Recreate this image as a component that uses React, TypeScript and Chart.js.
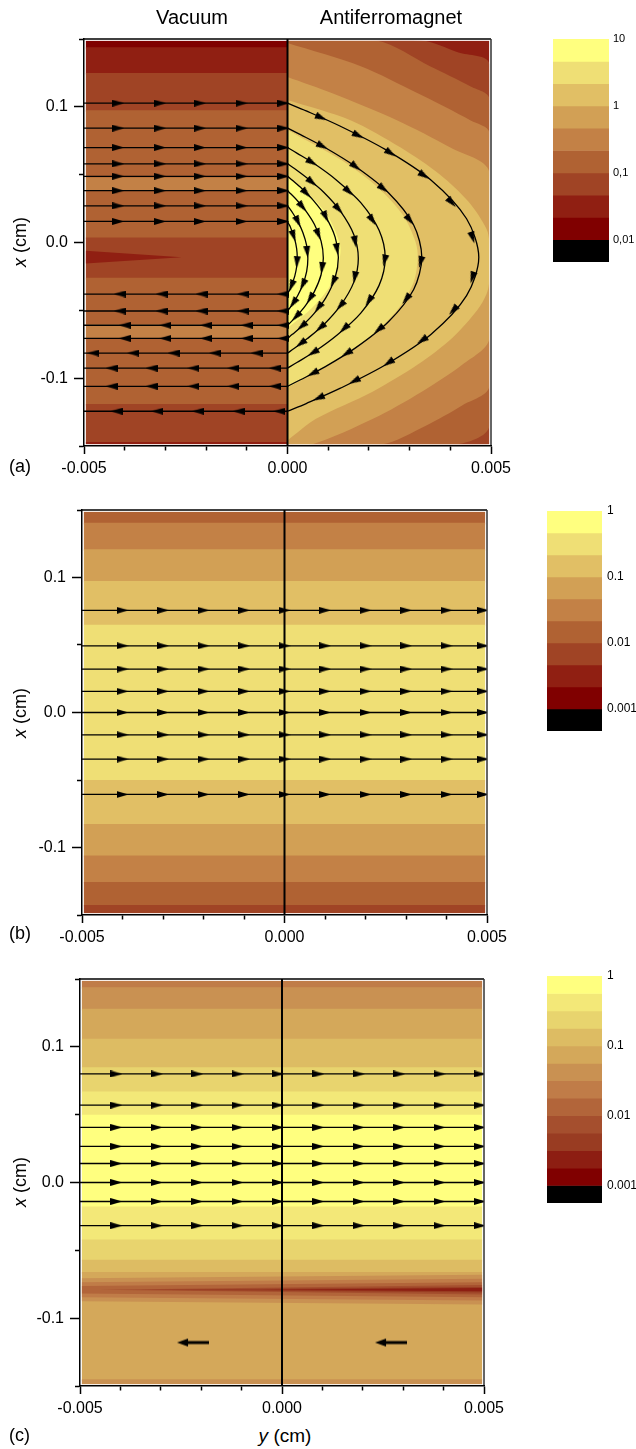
import React, { useEffect, useRef } from 'react';
import { Chart, registerables } from 'chart.js';

Chart.register(...registerables);

const FONT = "'Liberation Sans', Arial, Helvetica, sans-serif";

// ---------------- shared axes ----------------
// horizontal axis = y (cm), vertical axis = x (cm)
const yCmTicks = [-0.005, -0.004, -0.003, -0.002, -0.001, 0, 0.001, 0.002, 0.003, 0.004, 0.005];
const yCmTickLabels = ['-0.005', '', '', '', '', '0.000', '', '', '', '', '0.005'];
const xCmTicks = [-0.15, -0.1, -0.05, 0, 0.05, 0.1, 0.15];
const xCmTickLabels = ['', '-0.1', '', '0.0', '', '0.1', ''];

// colour levels (top of colour bar first)
const palette10 = ['#FFFF7F', '#EFDF75', '#E1BF65', '#D2A055', '#C38146', '#B06233', '#A04425', '#901F12', '#800000', '#000000'];
const palette13 = ['#FFFF7F', '#F3E878', '#E8D46E', '#DDBC63', '#D4A85A', '#C99152', '#C07C48', '#B2653A', '#A54F2E', '#993C22', '#8D1E12', '#800000', '#000000'];

// data-range of the filled contour area (slightly inside the axis frame)
const IN_H = 0.00496;
const IN_V = 0.1489;

// ---------------- panel (a) ----------------
const aVacuumEdges = [0.15, 0.144, 0.125, 0.0975, 0.048, 0.0385, 0.0037, -0.026, -0.06, -0.071, -0.119, -0.147, -0.15];
const aVacuumLevels = [8, 7, 6, 5, 4, 5, 6, 5, 4, 5, 6, 7];
const aVacuumWedge = [[-IN_H, -0.006], [-0.0026, -0.0108], [-IN_H, -0.0155]];
const aVacuumWedgeLevel = 7;
const aAfmBaseLevel = 7;
const aAfmRegions = [
  [[0, IN_V], [0.0033, IN_V], [0.0042, 0.14], [IN_H, 0.1315], [IN_H, -IN_V], [0, -IN_V]],
  [[0, IN_V], [0.0022, IN_V], [0.0035, 0.13], [0.0045, 0.115], [IN_H, 0.106], [IN_H, -0.135], [0.0041, -IN_V], [0, -IN_V]],
  [[0, 0.147], [0.0018, 0.13], [0.0032, 0.11], [0.0045, 0.09], [IN_H, 0.081], [IN_H, -0.106], [0.0043, -0.12], [0.0034, -0.135], [0.0023, -IN_V], [0, -IN_V]],
  [[0, 0.122], [0.0011, 0.11], [0.0027, 0.09], [0.004, 0.07], [IN_H, 0.052], [IN_H, -0.071], [0.0043, -0.09], [0.0033, -0.11], [0.0021, -0.13], [0.0006, -IN_V], [0, -IN_V]],
  [[0, 0.105], [0.00156, 0.09], [0.00278, 0.07], [0.00375, 0.05], [0.00445, 0.03], [0.00489, 0.01], [IN_H, 0.0], [IN_H, -0.028], [0.00489, -0.038], [0.00466, -0.05], [0.00406, -0.07], [0.0032, -0.09], [0.00209, -0.11], [0.0007, -0.13], [0, -0.146]],
  [[0, 0.083], [0.00136, 0.06], [0.00224, 0.04], [0.00284, 0.02], [0.00315, 0.0], [0.0032, -0.012], [0.00309, -0.03], [0.00269, -0.05], [0.00201, -0.07], [0.00104, -0.09], [0, -0.107]],
  [[0, 0.048], [0.00054, 0.035], [0.00098, 0.02], [0.00128, 0.0], [0.0013, -0.0075], [0.00122, -0.02], [0.00098, -0.035], [0.00054, -0.05], [0, -0.063]],
];
const aAfmLevels = [6, 5, 4, 3, 2, 1, 0];

const aEntryX = [0.1027, 0.0843, 0.07, 0.058, 0.0488, 0.0382, 0.027, 0.0155];
const aExitX = [-0.1244, -0.106, -0.0926, -0.0815, -0.0707, -0.061, -0.0505, -0.038];
const aCurves = [
  [[0, 0.1027], [0.00046, 0.097], [0.0013, 0.0857], [0.0024, 0.0686], [0.00353, 0.0459], [0.0044, 0.0175], [0.0047, -0.0109], [0.0044, -0.0392], [0.00353, -0.0676], [0.0024, -0.0903], [0.0013, -0.1074], [0.00046, -0.1187], [0, -0.1244]],
  [[0, 0.0843], [0.00032, 0.0795], [0.00092, 0.07], [0.00168, 0.0558], [0.00248, 0.0367], [0.0031, 0.0129], [0.0033, -0.0109], [0.0031, -0.0346], [0.00248, -0.0584], [0.00168, -0.0775], [0.00092, -0.0917], [0.00032, -0.1012], [0, -0.106]],
  [[0, 0.07], [0.00023, 0.0659], [0.00067, 0.0578], [0.00122, 0.0456], [0.0018, 0.0294], [0.00225, 0.009], [0.0024, -0.0113], [0.00225, -0.0316], [0.0018, -0.052], [0.00122, -0.0682], [0.00067, -0.0804], [0.00023, -0.0885], [0, -0.0926]],
  [[0, 0.058], [0.00017, 0.0545], [0.00048, 0.0475], [0.00089, 0.0371], [0.0013, 0.0231], [0.00163, 0.0057], [0.00174, -0.0118], [0.00163, -0.0292], [0.0013, -0.0466], [0.00089, -0.0606], [0.00048, -0.071], [0.00017, -0.078], [0, -0.0815]],
  [[0, 0.0488], [0.00012, 0.0458], [0.00035, 0.0398], [0.00064, 0.0309], [0.00094, 0.0189], [0.00117, 0.004], [0.00125, -0.011], [0.00117, -0.0259], [0.00094, -0.0408], [0.00064, -0.0528], [0.00035, -0.0617], [0.00012, -0.0677], [0, -0.0707]],
  [[0, 0.0382], [0.000086, 0.0357], [0.000244, 0.0308], [0.00045, 0.0233], [0.00066, 0.0134], [0.000825, 0.001], [0.00088, -0.0114], [0.000825, -0.0238], [0.00066, -0.0362], [0.00045, -0.0461], [0.000244, -0.0536], [0.000086, -0.0585], [0, -0.061]],
  [[0, 0.027], [0.00005, 0.0251], [0.00014, 0.0212], [0.000255, 0.0154], [0.000375, 0.0076], [0.00047, -0.0021], [0.0005, -0.0118], [0.00047, -0.0214], [0.000375, -0.0311], [0.000255, -0.0389], [0.00014, -0.0447], [0.00005, -0.0486], [0, -0.0505]],
  [[0, 0.0155], [0.00002, 0.0142], [0.00007, 0.0115], [0.00012, 0.0075], [0.00018, 0.0021], [0.000225, -0.0046], [0.00024, -0.0113], [0.000225, -0.0179], [0.00018, -0.0246], [0.00012, -0.03], [0.00007, -0.034], [0.00002, -0.0367], [0, -0.038]],
];
const aEntryArrowsY = [-0.00416, -0.00313, -0.00215, -0.00113, -0.0001];
const aExitArrowsY = [
  [-0.0042, -0.0032, -0.0022, -0.0012, -0.0002],
  [-0.00432, -0.00334, -0.00231, -0.00133, -0.00031],
  [-0.00432, -0.00334, -0.00231, -0.00133, -0.00031],
  [-0.00477, -0.00379, -0.0028, -0.00178, -0.00076],
  [-0.004, -0.003, -0.002, -0.001, -0.0001],
  [-0.004, -0.003, -0.002, -0.001, -0.0001],
  [-0.00412, -0.00309, -0.00211, -0.00109, -0.0001],
  [-0.00412, -0.00309, -0.00211, -0.00109, -0.0001],
];
const aCurveArrowIdx = [
  [1.44, 2.4, 3.12, 3.85, 4.58, 5.49, 6.53, 7.38, 8.2, 8.93, 9.69, 10.64],
  [1.9, 3.0, 3.85, 4.85, 6.15, 7.3, 8.3, 9.3, 10.5],
  [1.85, 3.5, 4.64, 6.1, 7.56, 8.71, 10.1],
  [2.3, 3.9, 5.3, 6.8, 8.0, 9.2, 10.5],
  [2.4, 4.0, 5.6, 7.2, 8.6, 10.0],
  [2.6, 4.6, 6.6, 8.5, 10.2],
  [3.0, 5.5, 8.0, 10.0],
  [3.5, 6.5, 9.5],
];
const aBarEdges = [1, 0.6667, 0.3333, 0, -0.3333, -0.6667, -1, -1.3333, -1.6667, -2, -2.3333];
const aBarTicks = [1, 0, -1, -2];
const aBarLabels = ['10', '1', '0,1', '0,01'];

// ---------------- panel (b) ----------------
const bBandEdges = [0.15, 0.1405, 0.121, 0.0975, 0.065, -0.05, -0.0825, -0.106, -0.1255, -0.1425, -0.15];
const bBandLevels = [5, 4, 3, 2, 1, 2, 3, 4, 5, 6];
const bLinesX = [0.0757, 0.0494, 0.0322, 0.0157, 0.0, -0.0165, -0.0345, -0.0607];
const bArrowsY = [-0.004, -0.003, -0.002, -0.001, 0.0, 0.001, 0.002, 0.003, 0.004, 0.0049];
const bBarEdges = [0, -0.3333, -0.6667, -1, -1.3333, -1.6667, -2, -2.3333, -2.6667, -3, -3.3333];
const bBarTicks = [0, -1, -2, -3];
const bBarLabels = ['1', '0.1', '0.01', '0.001'];

// ---------------- panel (c) ----------------
const cBandEdges = [0.15, 0.144, 0.128, 0.106, 0.085, 0.067, 0.05, -0.0177, -0.042, -0.057, -0.066, -0.145, -0.15];
const cBandLevels = [6, 5, 4, 3, 2, 1, 0, 1, 2, 3, 4, 5];
const cDipShapes = [
  [[-IN_H, -0.0705], [IN_H, -0.068], [IN_H, -0.09], [-IN_H, -0.0875]],
  [[-IN_H, -0.0735], [IN_H, -0.071], [IN_H, -0.087], [-IN_H, -0.0845]],
  [[-IN_H, -0.0762], [IN_H, -0.0735], [IN_H, -0.0845], [-IN_H, -0.0818]],
  [[-0.0045, -0.079], [IN_H, -0.0755], [IN_H, -0.0825]],
  [[-0.0035, -0.079], [IN_H, -0.077], [IN_H, -0.081]],
  [[-0.0005, -0.079], [IN_H, -0.0778], [IN_H, -0.0802]],
];
const cDipLevels = [5, 6, 7, 8, 9, 10];
const cLinesX = [0.08, 0.057, 0.0406, 0.0266, 0.014, 0.0, -0.014, -0.0318];
const cArrowsY = [-0.0041, -0.0031, -0.0021, -0.0011, -0.0001, 0.0009, 0.0019, 0.0029, 0.0039, 0.0049];
const cBackArrows = [[-0.0022, -0.118], [0.0027, -0.118]];
const cBarEdges = [0, -0.25, -0.5, -0.75, -1, -1.25, -1.5, -1.75, -2, -2.25, -2.5, -2.75, -3, -3.25];
const cBarTicks = [0, -1, -2, -3];
const cBarLabels = ['1', '0.1', '0.01', '0.001'];

// ---------------- helpers ----------------
const toXY = (pts: number[][]) => pts.map((p) => ({ x: p[0], y: p[1] }));

function poly(pts: number[][], color: string, tension = 0) {
  return { type: 'line', data: toXY(pts), borderWidth: 0, pointRadius: 0, fill: 'shape', backgroundColor: color, tension };
}
function stroke(pts: number[][], width: number, tension = 0, color = '#000') {
  return { type: 'line', data: toXY(pts), borderColor: color, borderWidth: width, pointRadius: 0, fill: false, tension, borderCapStyle: 'butt' };
}
function bands(edges: number[], levels: number[], palette: string[], h0: number, h1: number) {
  return levels.map((lv, i) => {
    const top = Math.min(edges[i], IN_V);
    const bot = Math.max(edges[i + 1] - 0.0012, -IN_V);
    return poly([[h0, top], [h1, top], [h1, bot], [h0, bot]], palette[lv]);
  });
}
function whiteInset() {
  return { ...stroke([[-0.005, -0.15], [0.005, -0.15], [0.005, 0.15], [-0.005, 0.15], [-0.005, -0.15]], 3.4, 0, '#ffffff'), clip: 0 };
}
function centerLine() {
  return stroke([[0, -0.15], [0, 0.15]], 2);
}
function onPath(path: number[][], f: number) {
  const i = Math.min(Math.floor(f), path.length - 2);
  const t = f - i;
  const a = path[i];
  const b = path[i + 1];
  return { x: a[0] + (b[0] - a[0]) * t, y: a[1] + (b[1] - a[1]) * t, dx: b[0] - a[0], dy: b[1] - a[1] };
}
const rotateAlong = (c: any) => {
  const r = c.raw;
  const ch = c.chart;
  if (!r || r.dx === undefined || !ch.scales || !ch.scales.x) return 0;
  const sx = ch.scales.x;
  const sy = ch.scales.y;
  const px = sx.getPixelForValue(r.x + r.dx) - sx.getPixelForValue(r.x);
  const py = sy.getPixelForValue(r.y + r.dy) - sy.getPixelForValue(r.y);
  return (Math.atan2(py, px) * 180) / Math.PI;
};
function arrowSet(items: any[], img: HTMLCanvasElement) {
  return { type: 'line', data: items, showLine: false, fill: false, borderWidth: 0, pointRadius: 6, pointBorderWidth: 0, pointStyle: img, pointRotation: rotateAlong };
}
function withOrder(ds: any[]) {
  return ds.map((d, i) => ({ ...d, order: ds.length - i }));
}

function makeHead() {
  const c = document.createElement('canvas');
  c.width = 12;
  c.height = 7;
  const g = c.getContext('2d')!;
  g.fillStyle = '#000';
  g.beginPath();
  g.moveTo(0, 0);
  g.lineTo(12, 3.5);
  g.lineTo(0, 7);
  g.closePath();
  g.fill();
  return c;
}
function makeBigArrow() {
  const c = document.createElement('canvas');
  c.width = 32;
  c.height = 10;
  const g = c.getContext('2d')!;
  g.fillStyle = '#000';
  g.fillRect(0, 3.5, 23, 3);
  g.beginPath();
  g.moveTo(21, 1);
  g.lineTo(32, 5);
  g.lineTo(21, 9);
  g.closePath();
  g.fill();
  return c;
}

const framePlugin = {
  id: 'frame',
  afterDatasetsDraw(chart: any) {
    const { ctx, chartArea: a } = chart;
    ctx.save();
    ctx.lineWidth = 1.5;
    ctx.strokeStyle = '#000';
    ctx.beginPath();
    ctx.moveTo(a.left, a.top);
    ctx.lineTo(a.right, a.top);
    ctx.stroke();
    ctx.strokeStyle = '#333';
    ctx.beginPath();
    ctx.moveTo(a.right, a.top);
    ctx.lineTo(a.right, a.bottom);
    ctx.stroke();
    ctx.restore();
  },
};

function axes(yWidth: number, xHeight: number) {
  const tickFont = { family: FONT, size: 16 };
  return {
    x: {
      type: 'linear',
      min: -0.005,
      max: 0.005,
      afterBuildTicks: (s: any) => {
        s.ticks = yCmTicks.map((v) => ({ value: v }));
      },
      afterFit: (s: any) => {
        s.height = xHeight;
      },
      ticks: { autoSkip: false, maxRotation: 0, minRotation: 0, padding: 5, color: '#000', font: tickFont, callback: (_v: any, i: number) => yCmTickLabels[i] },
      grid: {
        drawOnChartArea: false,
        tickLength: 8,
        tickWidth: 1.5,
        tickColor: '#000',
        tickBorderDash: (c: any) => (yCmTickLabels[c.index] ? [] : [4, 30]),
      },
      border: { display: true, color: '#000', width: 1.5, z: 1 },
    },
    y: {
      type: 'linear',
      min: -0.15,
      max: 0.15,
      afterBuildTicks: (s: any) => {
        s.ticks = xCmTicks.map((v) => ({ value: v }));
      },
      afterFit: (s: any) => {
        s.width = yWidth;
      },
      ticks: { autoSkip: false, padding: 6, color: '#000', font: tickFont, callback: (_v: any, i: number) => xCmTickLabels[i] },
      grid: {
        drawOnChartArea: false,
        tickLength: 10,
        tickWidth: 1.5,
        tickColor: '#000',
        tickBorderDash: (c: any) => (xCmTickLabels[c.index] ? [] : [0, 5, 30]),
      },
      border: { display: true, color: '#000', width: 1.5, z: 1 },
    },
  };
}

function panelConfig(datasets: any[], padTop: number, padRight: number, yWidth: number, xHeight: number) {
  return {
    type: 'line',
    data: { datasets },
    options: {
      animation: false,
      responsive: false,
      devicePixelRatio: 1,
      events: [],
      layout: { padding: { left: 0, top: padTop, right: padRight, bottom: 0 } },
      plugins: { legend: { display: false }, tooltip: { enabled: false } },
      scales: axes(yWidth, xHeight),
    },
    plugins: [framePlugin],
  };
}

function colorbarConfig(edges: number[], palette: string[], ticks: number[], labels: string[], fontSize: number, labelPad: number, axisWidth: number, padTop: number, padBottom: number) {
  return {
    type: 'bar',
    data: {
      labels: [''],
      datasets: palette.map((c, i) => ({
        data: [[edges[i + 1], edges[i]]],
        backgroundColor: c,
        borderWidth: 0,
        barPercentage: 1,
        categoryPercentage: 1,
        grouped: false,
      })),
    },
    options: {
      animation: false,
      responsive: false,
      devicePixelRatio: 1,
      events: [],
      layout: { padding: { left: 0, right: 0, top: padTop, bottom: padBottom } },
      plugins: { legend: { display: false }, tooltip: { enabled: false } },
      scales: {
        x: { display: false },
        y: {
          position: 'right',
          min: edges[edges.length - 1],
          max: edges[0],
          afterBuildTicks: (s: any) => {
            s.ticks = ticks.map((v) => ({ value: v }));
          },
          afterFit: (s: any) => {
            s.width = axisWidth;
          },
          grid: { display: false, drawTicks: false, tickLength: 0 },
          border: { display: false },
          ticks: { padding: labelPad, color: '#000', font: { family: FONT, size: fontSize }, callback: (_v: any, i: number) => labels[i] },
        },
      },
    },
  };
}

// ---------------- panel builders ----------------
function buildA() {
  const head = makeHead();
  const ds: any[] = [];
  ds.push(...bands(aVacuumEdges, aVacuumLevels, palette10, -IN_H, 0.00005));
  ds.push(poly(aVacuumWedge, palette10[aVacuumWedgeLevel]));
  ds.push(poly([[0, IN_V], [IN_H, IN_V], [IN_H, -IN_V], [0, -IN_V]], palette10[aAfmBaseLevel]));
  aAfmRegions.forEach((r, i) => ds.push(poly(r, palette10[aAfmLevels[i]], 0.3)));
  ds.push(whiteInset());
  ds.push(centerLine());
  aEntryX.forEach((v) => ds.push(stroke([[-0.005, v], [0, v]], 1.3)));
  aExitX.forEach((v) => ds.push(stroke([[0, v], [-0.005, v]], 1.3)));
  aCurves.forEach((c) => ds.push(stroke(c, 1.3, 0.3)));
  const arrows: any[] = [];
  aEntryX.forEach((v) => aEntryArrowsY.forEach((h) => arrows.push({ x: h, y: v, dx: 0.001, dy: 0 })));
  aExitX.forEach((v, i) => aExitArrowsY[i].forEach((h) => arrows.push({ x: h, y: v, dx: -0.001, dy: 0 })));
  aCurves.forEach((c, i) => aCurveArrowIdx[i].forEach((f) => arrows.push(onPath(c, f))));
  ds.push(arrowSet(arrows, head));
  return panelConfig(withOrder(ds), 39, 29, 84, 44);
}

function buildStraight(edges: number[], levels: number[], palette: string[], lines: number[], arrowsY: number[], extra: number[][][], extraLevels: number[], back: number[][], geom: number[]) {
  const head = makeHead();
  const ds: any[] = [];
  ds.push(...bands(edges, levels, palette, -IN_H, IN_H));
  extra.forEach((s, i) => ds.push(poly(s, palette[extraLevels[i]])));
  ds.push(whiteInset());
  ds.push(centerLine());
  lines.forEach((v) => ds.push(stroke([[-0.005, v], [0.005, v]], 1.3)));
  const arrows: any[] = [];
  lines.forEach((v) => arrowsY.forEach((h) => arrows.push({ x: h, y: v, dx: 0.001, dy: 0 })));
  ds.push(arrowSet(arrows, head));
  if (back.length) {
    ds.push(arrowSet(back.map((p) => ({ x: p[0], y: p[1], dx: -0.001, dy: 0 })), makeBigArrow()));
  }
  return panelConfig(withOrder(ds), geom[0], geom[1], geom[2], geom[3]);
}

function ChartCanvas({ make, left, top, width, height }: any) {
  const ref = useRef<HTMLCanvasElement>(null);
  useEffect(() => {
    const chart = new Chart(ref.current as HTMLCanvasElement, make());
    return () => chart.destroy();
  }, []);
  return <canvas ref={ref} width={width} height={height} style={{ position: 'absolute', left, top, width, height }} />;
}

function Label({ x, y, size, children, rotate, anchor }: any) {
  const tx = anchor === 'left' ? '0' : '-50%';
  return (
    <div
      style={{
        position: 'absolute',
        left: x,
        top: y,
        fontFamily: FONT,
        fontSize: size,
        color: '#000',
        whiteSpace: 'nowrap',
        lineHeight: 1,
        transform: `translate(${tx}, -50%)${rotate ? ' rotate(-90deg)' : ''}`,
        transformOrigin: 'center center',
      }}
    >
      {children}
    </div>
  );
}

export default function App() {
  return (
    <div style={{ position: 'absolute', left: 0, top: 0, width: 636, height: 1449, background: '#fff', overflow: 'hidden' }}>
      <ChartCanvas make={buildA} left={0} top={0} width={520} height={490} />
      <ChartCanvas
        make={() => buildStraight(bBandEdges, bBandLevels, palette10, bLinesX, bArrowsY, [], [], [], [40, 33, 82, 45])}
        left={0}
        top={470}
        width={520}
        height={490}
      />
      <ChartCanvas
        make={() => buildStraight(cBandEdges, cBandLevels, palette13, cLinesX, cArrowsY, cDipShapes, cDipLevels, cBackArrows, [39, 36, 80, 34])}
        left={0}
        top={940}
        width={520}
        height={480}
      />
      <ChartCanvas make={() => colorbarConfig(aBarEdges, palette10, aBarTicks, aBarLabels, 11, 4, 27, 15, 12)} left={553} top={24} width={83} height={250} />
      <ChartCanvas make={() => colorbarConfig(bBarEdges, palette10, bBarTicks, bBarLabels, 12, 5, 34, 15, 15)} left={547} top={496} width={89} height={250} />
      <ChartCanvas make={() => colorbarConfig(cBarEdges, palette13, cBarTicks, cBarLabels, 12, 5, 34, 15, 15)} left={547} top={961} width={89} height={257} />

      <Label x={192} y={17} size={20}>Vacuum</Label>
      <Label x={391} y={17} size={20}>Antiferromagnet</Label>

      <Label x={20} y={242} size={18} rotate>
        <i>x</i> (cm)
      </Label>
      <Label x={20} y={713} size={18} rotate>
        <i>x</i> (cm)
      </Label>
      <Label x={20} y={1182} size={18} rotate>
        <i>x</i> (cm)
      </Label>

      <Label x={9} y={466} size={18} anchor="left">(a)</Label>
      <Label x={9} y={933} size={18} anchor="left">(b)</Label>
      <Label x={9} y={1435} size={18} anchor="left">(c)</Label>

      <Label x={285} y={1435} size={19}>
        <i>y</i> (cm)
      </Label>
    </div>
  );
}
